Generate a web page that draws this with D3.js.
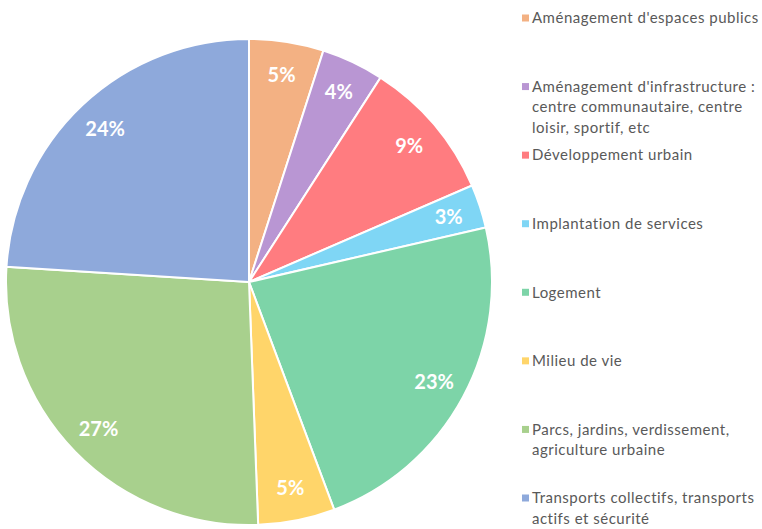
<!DOCTYPE html>
<html>
<head>
<meta charset="utf-8">
<script src="https://cdn.jsdelivr.net/npm/d3@7"></script>
<style>
  body { margin: 0; background: #fff; }
  svg { display: block; }
</style>
</head>
<body>
<div id="chart"></div>
<script>
// Categories (legend order = slice order, clockwise from 12 o'clock)
const categories = [
    ["Aménagement d'espaces publics"],
    ["Aménagement d'infrastructure :", "centre communautaire, centre", "loisir, sportif, etc"],
    ["Développement urbain"],
    ["Implantation de services"],
    ["Logement"],
    ["Milieu de vie"],
    ["Parcs, jardins, verdissement,", "agriculture urbaine"],
    ["Transports collectifs, transports", "actifs et sécurité"]
];

// Share of each category, in percent
const values = [4.95, 4.15, 9.4, 2.9, 22.9, 5.1, 26.6, 24.0];

const colors = ["#F3B183", "#B996D3", "#FF7C80", "#7FD6F5", "#7DD4A8", "#FFD56A", "#A8D08D", "#8EA9DB"];

const W = 762, H = 529;
const CX = 249, CY = 282, R = 243;

const svg = d3.select("#chart")
    .append("svg")
    .attr("width", W)
    .attr("height", H);

const total = d3.sum(values);
const pie = d3.pie().sort(null).value(d => d);
const arcs = pie(values);

const arc = d3.arc().innerRadius(0).outerRadius(R);
const labelArc = d3.arc().innerRadius(R * 0.865).outerRadius(R * 0.865);

const g = svg.append("g").attr("transform", `translate(${CX},${CY})`);

g.selectAll("path")
    .data(arcs)
    .enter()
    .append("path")
    .attr("d", arc)
    .attr("fill", (d, i) => colors[i])
    .attr("stroke", "#fff")
    .attr("stroke-width", 2);

g.selectAll(".pct")
    .data(arcs)
    .enter()
    .append("text")
    .attr("class", "pct")
    .attr("transform", d => `translate(${labelArc.centroid(d)})`)
    .attr("text-anchor", "middle")
    .attr("dy", "0.36em")
    .style("font-family", "Lato, 'Open Sans', sans-serif")
    .style("font-weight", "bold")
    .style("font-size", "20px")
    .style("fill", "#fff")
    .text(d => Math.round(d.data / total * 100) + "%");

// Legend
const legendY = d3.scalePoint()
    .domain(d3.range(categories.length))
    .range([18, 498]);

const lineH = 20.5;

const legend = svg.append("g")
    .selectAll("g")
    .data(categories)
    .enter()
    .append("g")
    .attr("transform", (d, i) => `translate(522,${legendY(i)})`);

legend.append("rect")
    .attr("x", 0)
    .attr("y", -3.5)
    .attr("width", 7)
    .attr("height", 7)
    .attr("fill", (d, i) => colors[i]);

legend.append("text")
    .attr("x", 10)
    .style("font-family", "Lato, 'Open Sans', sans-serif")
    .style("font-size", "15px")
    .style("letter-spacing", "0.5px")
    .style("fill", "#595959")
    .selectAll("tspan")
    .data(d => d)
    .enter()
    .append("tspan")
    .attr("x", 10)
    .attr("y", (d, i) => i * lineH)
    .attr("dy", "0.35em")
    .text(d => d);
</script>
</body>
</html>
